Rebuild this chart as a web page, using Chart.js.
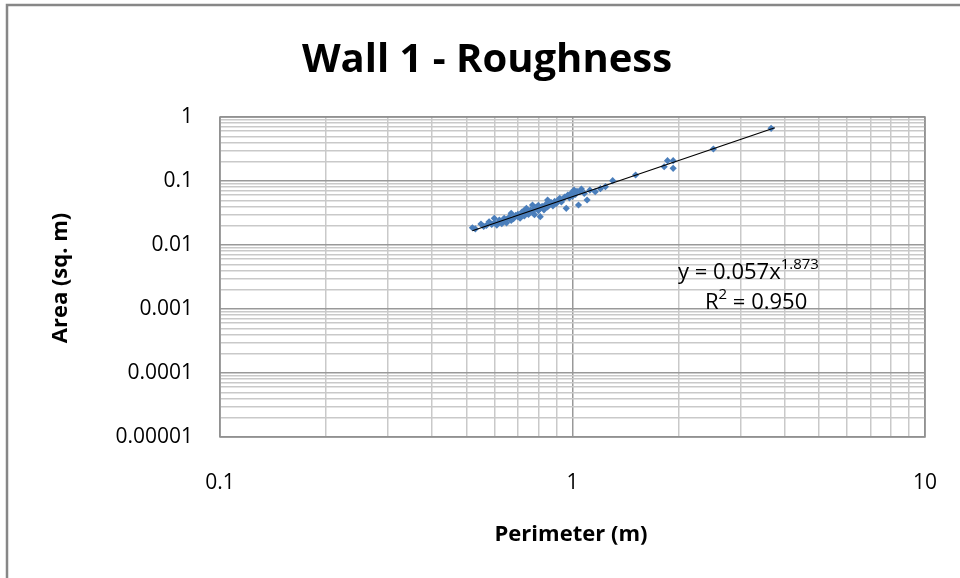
<!DOCTYPE html>
<html>
<head>
<meta charset="utf-8">
<script src="https://cdn.jsdelivr.net/npm/chart.js@4"></script>
<style>
  html, body { margin: 0; padding: 0; background: #fff; }
  #wrap { width: 960px; height: 578px; }
</style>
</head>
<body>
<div id="wrap"><canvas id="chart" width="960" height="578"></canvas></div>
<script>
const perimeter = [
  0.52, 0.53, 0.55, 0.56, 0.57, 0.58, 0.59, 0.60, 0.60, 0.61,
  0.62, 0.62, 0.63, 0.64, 0.64, 0.65, 0.65, 0.66, 0.67, 0.67,
  0.68, 0.69, 0.70, 0.70, 0.71, 0.72, 0.72, 0.73, 0.73, 0.74,
  0.74, 0.75, 0.76, 0.77, 0.77, 0.78, 0.78, 0.79, 0.80, 0.80,
  0.81, 0.81, 0.82, 0.83, 0.84, 0.85, 0.85, 0.86, 0.87, 0.88,
  0.89, 0.90, 0.91, 0.92, 0.93, 0.94, 0.95, 0.96, 0.97, 0.98,
  0.99, 1.00, 1.01, 1.02, 1.03, 1.04, 1.05, 1.06, 1.08, 1.10,
  1.12, 1.16, 1.20, 1.24, 1.30, 1.51, 1.82, 1.86, 1.93, 1.93,
  2.51, 3.66
];
const area = [
  0.0186, 0.0178, 0.0213, 0.0195, 0.0202, 0.0231, 0.0210, 0.0261, 0.0222, 0.0205,
  0.0245, 0.0228, 0.0215, 0.0261, 0.0238, 0.0250, 0.0222, 0.0270, 0.0313, 0.0242,
  0.0258, 0.0290, 0.0277, 0.0300, 0.0262, 0.0331, 0.0305, 0.0285, 0.0345, 0.0374,
  0.0320, 0.0300, 0.0352, 0.0422, 0.0330, 0.0372, 0.0298, 0.0390, 0.0345, 0.0415,
  0.0277, 0.0374, 0.0400, 0.0355, 0.0430, 0.0505, 0.0395, 0.0422, 0.0460, 0.0410,
  0.0480, 0.0447, 0.0500, 0.0537, 0.0470, 0.0520, 0.0560, 0.0374, 0.0604, 0.0545,
  0.0640, 0.0580, 0.0724, 0.0620, 0.0690, 0.0422, 0.0680, 0.0750, 0.0640, 0.0505,
  0.0720, 0.0680, 0.0760, 0.0815, 0.1010, 0.1240, 0.1670, 0.2080, 0.2080, 0.1580,
  0.3160, 0.6660
];

// Power trendline y = 0.057x^1.873, ends of the drawn segment
const trendX = [0.52, 3.75];
const trendY = [0.0167, 0.678];

const xDecades = [0.1, 1, 10];
const yDecades = [0.00001, 0.0001, 0.001, 0.01, 0.1, 1];

function logTicks(decades) {
  const out = [];
  decades.forEach((d, i) => {
    if (i === decades.length - 1) { out.push(d); return; }
    for (let m = 1; m <= 9; m++) out.push(+(d * m).toPrecision(3));
  });
  return out;
}
const xTickValues = logTicks(xDecades);
const yTickValues = logTicks(yDecades);

const isDecade = (v) => Math.abs(Math.log10(v) - Math.round(Math.log10(v))) < 1e-9;

const points = perimeter.map((p, i) => ({ x: p, y: area[i] }));
const trend = trendX.map((p, i) => ({ x: p, y: trendY[i] }));

const gridColor = (ctx) => (ctx.tick && isDecade(ctx.tick.value) ? "#999999" : "#c9c9c9");

const decor = {
  id: "decor",
  beforeDraw(chart) {
    const c = chart.ctx;
    c.save();
    c.fillStyle = "#fff";
    c.fillRect(0, 0, chart.width, chart.height);
    c.restore();
  },
  afterDraw(chart) {
    const c = chart.ctx;
    const a = chart.chartArea;
    c.save();
    // outer frame (only left and top are inside the picture)
    c.strokeStyle = "#878787";
    c.lineWidth = 2.5;
    c.beginPath();
    c.moveTo(7, chart.height + 5);
    c.lineTo(7, 5);
    c.lineTo(chart.width + 5, 5);
    c.stroke();

    // plot area border
    c.strokeStyle = "#8f8f8f";
    c.lineWidth = 1.5;
    c.strokeRect(a.left, a.top, a.right - a.left, a.bottom - a.top);

    // title
    c.fillStyle = "#000";
    c.textAlign = "center";
    c.textBaseline = "alphabetic";
    c.font = "bold 40px 'Open Sans'";
    c.fillText("Wall 1 - Roughness", 487, 72);

    // axis titles
    c.font = "bold 22px 'Open Sans'";
    c.fillText("Perimeter (m)", 571, 541);
    c.save();
    c.translate(67, 278);
    c.rotate(-Math.PI / 2);
    c.fillText("Area (sq. m)", 0, 0);
    c.restore();

    // trendline equation
    c.textAlign = "left";
    c.font = "22px 'Open Sans'";
    const base = "y = 0.057x";
    c.fillText(base, 678, 279);
    const w = c.measureText(base).width;
    c.font = "15px 'Open Sans'";
    c.fillText("1.873", 678 + w, 269);
    c.font = "22px 'Open Sans'";
    c.fillText("R", 705, 309);
    const rw = c.measureText("R").width;
    c.font = "15px 'Open Sans'";
    c.fillText("2", 705 + rw, 299);
    const sw = c.measureText("2").width;
    c.font = "22px 'Open Sans'";
    c.fillText(" = 0.950", 705 + rw + sw, 309);
    c.restore();
  }
};

new Chart(document.getElementById("chart"), {
  type: "scatter",
  data: {
    datasets: [
      {
        label: "Power trendline",
        data: trend,
        showLine: true,
        borderColor: "#000",
        borderWidth: 1.2,
        pointRadius: 0,
        order: 0
      },
      {
        label: "Area",
        data: points,
        backgroundColor: "#4a7ebb",
        borderColor: "#4a7ebb",
        pointStyle: "rectRot",
        pointRadius: 3.6,
        borderWidth: 0,
        order: 1
      }
    ]
  },
  options: {
    responsive: false,
    animation: false,
    layout: { padding: { top: 117, right: 35, left: 0, bottom: 0 } },
    plugins: { legend: { display: false }, tooltip: { enabled: false } },
    scales: {
      x: {
        type: "logarithmic",
        min: 0.1,
        max: 10,
        afterBuildTicks: (s) => { s.ticks = xTickValues.map((v) => ({ value: v })); },
        afterFit: (s) => { s.height = 141; s.paddingLeft = 0; s.paddingRight = 0; },
        border: { display: false },
        grid: { color: gridColor, lineWidth: 1.5, drawTicks: false },
        ticks: {
          autoSkip: false,
          maxRotation: 0,
          padding: 33,
          color: "#000",
          font: { family: "'Open Sans'", size: 21 },
          callback: (v) => (isDecade(v) ? String(+v) : "")
        }
      },
      y: {
        type: "logarithmic",
        min: 0.00001,
        max: 1,
        afterBuildTicks: (s) => { s.ticks = yTickValues.map((v) => ({ value: v })); },
        afterFit: (s) => { s.width = 220; s.paddingTop = 0; s.paddingBottom = 0; },
        border: { display: false },
        grid: { color: gridColor, lineWidth: 1.5, drawTicks: false },
        ticks: {
          autoSkip: false,
          padding: 27,
          color: "#000",
          font: { family: "'Open Sans'", size: 21 },
          callback: (v) => (isDecade(v) ? String(+v) : "")
        }
      }
    }
  },
  plugins: [decor]
});
</script>
</body>
</html>
